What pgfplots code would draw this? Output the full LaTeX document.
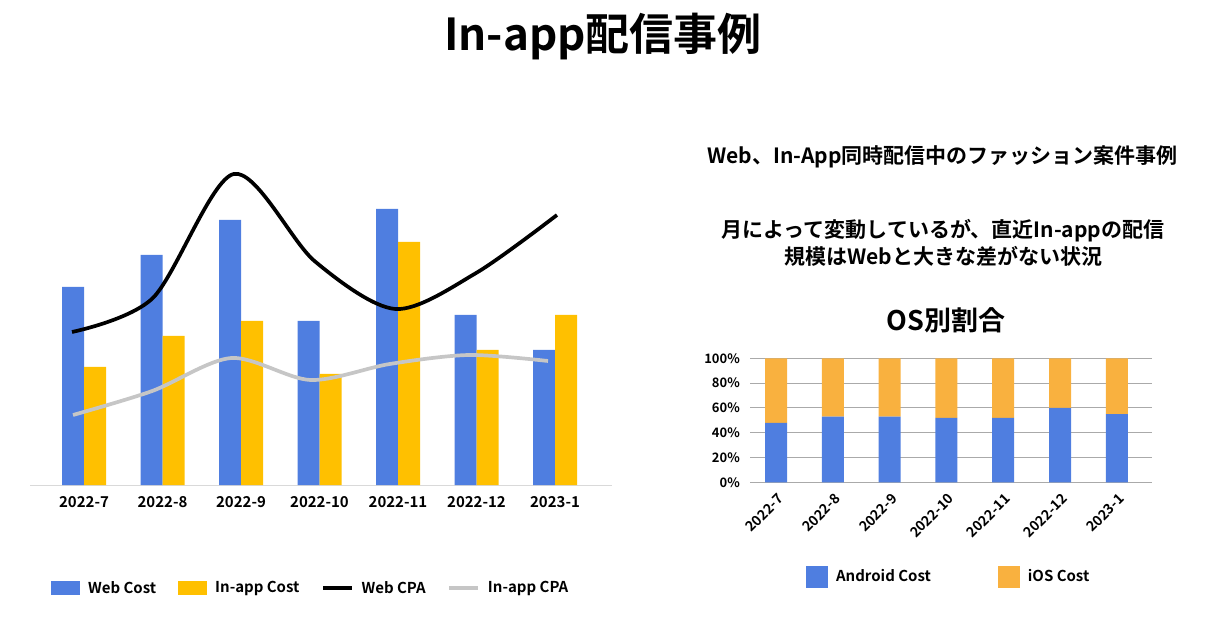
\documentclass[border=0pt]{standalone}
\usepackage{pgfplots}
\pgfplotsset{compat=1.18}
\usepackage{fontspec}
\setmainfont{Noto Sans CJK JP}[BoldFont={Noto Sans CJK JP Bold}]
\definecolor{cblue}{RGB}{79,126,224}
\definecolor{cyellow}{RGB}{255,192,0}
\definecolor{corange}{RGB}{249,177,63}
\definecolor{cgrey}{RGB}{198,198,198}
\definecolor{cgrid}{RGB}{170,170,170}
\definecolor{cbase}{RGB}{217,217,217}
\begin{document}
\begin{tikzpicture}[x=1pt,y=1pt]
\path[use as bounding box] (0,0) rectangle (1213,632);
\node[font=\fontsize{44}{50}\selectfont\bfseries] at (603,595) {In-app配信事例};
\node[font=\fontsize{21}{25}\selectfont\bfseries] at (942.5,475) {Web、In-App同時配信中のファッション案件事例};
\node[font=\fontsize{21}{25}\selectfont\bfseries] at (943,401) {月によって変動しているが、直近In-appの配信};
\node[font=\fontsize{21}{25}\selectfont\bfseries] at (943.5,376) {規模はWebと大きな差がない状況};
\node[font=\fontsize{27}{32}\selectfont\bfseries] at (946,312) {OS別割合};

\begin{axis}[at={(30pt,147pt)}, anchor=south west, scale only axis,
  width=582pt, height=330pt,
  xmin=-0.688, xmax=6.726, ymin=0, ymax=330,
  axis x line*=bottom, axis y line=none,
  x axis line style={draw=cbase, line width=1pt, -},
  xtick={0,1,2,3,4,5,6},
  xticklabels={2022-7,2022-8,2022-9,2022-10,2022-11,2022-12,2023-1},
  major tick length=0pt, ytick=\empty,
  xticklabel style={font=\fontsize{15}{18}\selectfont\bfseries, inner sep=0pt, anchor=north},
  xticklabel shift=11pt,
  clip=false,
  legend columns=4,
  legend cell align=left,
  legend style={at={(0.036,-0.312)}, anchor=west, draw=none, fill=none, inner sep=0pt,
    font=\fontsize{15}{18}\selectfont\bfseries,
    nodes={inner sep=1pt},
    /tikz/every odd column/.append style={column sep=7pt},
    /tikz/every even column/.append style={column sep=21pt}},
]
\addplot[ybar, bar width=22pt, bar shift=-11pt, fill=cblue, draw=none,
  legend image code/.code={\fill[cblue] (0pt,-7pt) rectangle (29pt,7pt);}]
  coordinates {(0,198) (1,230) (2,265) (3,164) (4,276) (5,170) (6,135)};
\addlegendentry{Web Cost}
\addplot[ybar, bar width=22pt, bar shift=11pt, fill=cyellow, draw=none,
  legend image code/.code={\fill[cyellow] (0pt,-7pt) rectangle (29pt,7pt);}]
  coordinates {(0,118) (1,149) (2,164) (3,111) (4,243) (5,135) (6,170)};
\addlegendentry{In-app Cost}
\addplot[black, line width=3.7pt, smooth, no markers,
  legend image code/.code={\draw[black, line width=3.2pt] (0pt,0pt) -- (29pt,0pt);}]
  coordinates {(-0.153,153) (0.877,187) (1.906,311) (2.936,224) (3.966,176) (4.995,212) (6.025,270)};
\addlegendentry{Web CPA}
\addplot[cgrey, line width=3.7pt, smooth, no markers,
  legend image code/.code={\draw[cgrey, line width=3.2pt] (0pt,0pt) -- (29pt,0pt);}]
  coordinates {(-0.140,70) (0.869,94) (1.877,127) (2.886,105) (3.894,121) (4.903,130) (5.911,124)};
\addlegendentry{In-app CPA}
\end{axis}

\begin{axis}[at={(750pt,149.7pt)}, anchor=south west, scale only axis,
  width=402pt, height=124pt,
  xmin=-0.458, xmax=6.62, ymin=0, ymax=100,
  ybar stacked, bar width=22pt,
  axis line style={draw=none}, major tick length=0pt,
  ytick={0,20,40,60,80,100},
  yticklabels={0\%,20\%,40\%,60\%,80\%,100\%},
  ymajorgrids, grid style={cgrid, line width=0.8pt},
  xtick={0,1,2,3,4,5,6},
  xticklabels={2022-7,2022-8,2022-9,2022-10,2022-11,2022-12,2023-1},
  yticklabel style={font=\fontsize{13}{15}\selectfont\bfseries, inner sep=0pt, anchor=east},
  yticklabel shift=10pt,
  xticklabel style={font=\fontsize{14}{16}\selectfont\bfseries, xshift=5pt, yshift=-14pt, rotate=45, anchor=east, inner sep=0pt},
  clip=false,
  legend columns=2,
  legend cell align=left,
  legend style={at={(0.139,-0.76)}, anchor=west, draw=none, fill=none, inner sep=0pt,
    font=\fontsize{15}{18}\selectfont\bfseries,
    nodes={inner sep=1pt},
    /tikz/every odd column/.append style={column sep=7pt},
    /tikz/every even column/.append style={column sep=66pt}},
]
\addplot[fill=cblue, draw=none,
  legend image code/.code={\fill[cblue] (0pt,-11pt) rectangle (22pt,11pt);}]
  coordinates {(0,48) (1,53) (2,53) (3,52) (4,52) (5,60) (6,55)};
\addlegendentry{Android Cost}
\addplot[fill=corange, draw=none,
  legend image code/.code={\fill[corange] (0pt,-11pt) rectangle (22pt,11pt);}]
  coordinates {(0,52) (1,47) (2,47) (3,48) (4,48) (5,40) (6,45)};
\addlegendentry{iOS Cost}
\end{axis}
\end{tikzpicture}
\end{document}
